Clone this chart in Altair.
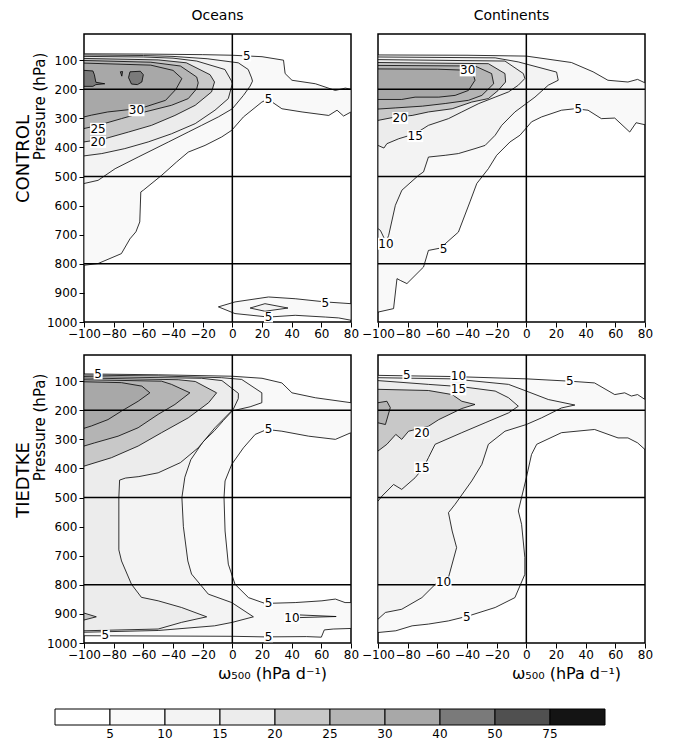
import altair as alt
import pandas as pd

FONT = "DejaVu Sans"
LEVELS = [5, 10, 15, 20, 25, 30, 40, 50, 75]
GRAYS = ["#ffffff", "#f9f9f9", "#f3f3f3", "#ececec", "#c8c8c8",
         "#b4b4b4", "#a8a8a8", "#7a7a7a", "#505050", "#141414"]
OMEGA_TICKS = [-100, -80, -60, -40, -20, 0, 20, 40, 60, 80]
P_TICKS = [100, 200, 300, 400, 500, 600, 700, 800, 900, 1000]
REF_P = [200, 500, 800]
REF_W = [0]
COL_TITLES = ["Oceans", "Continents"]
ROW_TITLES = ["CONTROL", "TIEDTKE"]
XTITLE = "ω₅₀₀  (hPa  d⁻¹)"
YTITLE = "Pressure  (hPa)"

# ---------------- CONTROL / Oceans : contour regions (omega, pressure) ----------------
TL_5 = [(-100, 78), (-60, 79), (-20, 81), (0, 83), (20, 88), (34.5, 100), (35.6, 146), (40.2, 169),
        (56, 181), (69.4, 204), (76.2, 196), (80, 200),
        (80, 278), (75, 292), (70.6, 272), (65, 290), (47, 278), (33.4, 267), (24, 234), (19.9, 244),
        (7.5, 295), (-0.4, 341), (-7.2, 364), (-18.4, 393), (-29.7, 416), (-37.6, 450), (-47.7, 496),
        (-60, 547), (-61.7, 553), (-62.4, 656), (-65, 690), (-69, 714), (-74.8, 765), (-90.5, 799), (-100, 805)]
TL_5_SFC = [(-9.4, 948), (1.8, 931), (24.4, 914), (42.4, 920), (62.7, 931), (80, 937),
            (80, 994), (71.7, 986), (62.7, 983), (42.4, 977), (24.4, 983), (1.8, 971)]
TL_10 = [(-100, 82), (-60, 84), (-40, 87), (-17, 95), (4, 109), (10.7, 132), (13, 161), (13.6, 172),
         (12, 189), (7.5, 221), (0, 267), (-9.4, 295), (-20.7, 324), (-29.7, 347), (-43, 381),
         (-63.5, 433), (-79, 473), (-90.5, 513), (-100, 524)]
TL_10_SFC = [(12, 952), (22, 937), (37.5, 952), (22, 963)]
TL_15 = [(-100, 87), (-60, 89), (-40, 93), (-24, 103), (-5, 132), (-0.5, 172), (0, 181),
         (-2.7, 232), (-11.7, 272), (-25, 318), (-41, 353), (-56.7, 381), (-72.5, 404), (-88, 421), (-100, 429)]
TL_20 = [(-100, 94), (-50, 99), (-31, 109), (-15, 150), (-12, 175),
         (-14, 209), (-25, 255), (-38.7, 290), (-54.5, 324), (-70, 347), (-86, 370), (-100, 381)]
TL_25 = [(-100, 101), (-55, 107), (-35, 120), (-24, 158), (-23, 178),
         (-24, 198), (-29.7, 232), (-41, 255), (-59, 278), (-74.8, 301), (-90.5, 324), (-100, 335)]
TL_30 = [(-100, 110), (-55, 117), (-40, 135), (-34, 163),
         (-38, 200), (-45, 238), (-59, 261), (-66, 268), (-84, 278), (-95, 289), (-100, 295)]
TL_40_EDGE = [(-100, 135), (-94, 137), (-93, 150), (-92, 176), (-86, 181), (-92, 184), (-94, 190), (-100, 190)]
TL_40_CORE = [(-69, 140), (-62, 138), (-60, 150), (-61, 175), (-64, 184), (-68, 182), (-70, 160)]
TL_40_SPECK = [(-75.5, 140), (-74, 139), (-74.5, 155)]

# ---------------- CONTROL / Continents ----------------
TR_5 = [(-100, 82), (-40, 83), (0, 86), (30.4, 108), (45, 140), (55, 169), (68.5, 175), (75, 166), (80, 178),
        (80, 322), (74, 315), (69.7, 347), (59.6, 299), (50.6, 301), (41.6, 272), (32.7, 267), (23.7, 272),
        (10.3, 295), (3.5, 312), (0, 333), (-4.3, 358), (-11, 381), (-20, 427), (-25.6, 473), (-33.4, 524),
        (-38, 587), (-45.8, 691), (-58, 746), (-66, 754), (-69.3, 811), (-80.5, 868), (-85, 857),
        (-87.2, 851), (-89.5, 954), (-100, 966)]
TR_10 = [(-100, 89), (-21, 92), (-5.4, 106), (20.4, 141), (21.5, 169),
         (14.8, 186), (5.8, 227), (0, 249), (-7.7, 278), (-16.6, 324), (-21, 358), (-27.8, 393), (-34.6, 404),
         (-45.8, 421), (-54.7, 427), (-66, 433), (-69.3, 484), (-72.7, 496), (-83.9, 547), (-88.3, 599),
         (-92.8, 702), (-94.6, 725), (-98.4, 685), (-100, 679)]
TR_15 = [(-100, 98), (-14.4, 103), (-2, 146), (-1, 163),
         (-5.4, 186), (-12, 209), (-21, 227), (-32, 249), (-43.5, 278), (-52.5, 301), (-66, 324), (-75, 353),
         (-86, 370), (-94, 387), (-96, 402), (-100, 393)]
TR_20 = [(-100, 108), (-25.6, 112), (-14.4, 146), (-14, 175),
         (-19, 204), (-25.6, 232), (-36.8, 244), (-50, 267), (-66, 278), (-77, 290), (-88, 295), (-100, 307)]
TR_25 = [(-100, 118), (-34.6, 120), (-23.4, 146), (-22, 181),
         (-30, 221), (-39, 238), (-54.7, 249), (-70, 258), (-88, 264), (-100, 268)]
TR_30 = [(-100, 130), (-60, 131), (-43.5, 134), (-36, 145), (-34.6, 169),
         (-39, 204), (-48, 221), (-59, 227), (-75, 227), (-84, 235), (-100, 235)]

# ---------------- TIEDTKE / Oceans ----------------
BL_5 = [(-100, 75), (-50, 78), (0, 83), (20, 90), (33.4, 106), (40.2, 140), (56, 157), (80, 174),
        (80, 277), (69.5, 300), (51.4, 289), (33.4, 272), (23.3, 266), (15.4, 283), (7.5, 329), (-0.4, 386),
        (-4.9, 443), (-5.6, 500), (-4.9, 615), (-2.7, 729), (1.8, 798), (10.9, 844), (22, 864), (42.4, 861),
        (60.4, 855), (69.5, 849), (76, 861), (80, 861),
        (80, 950), (68, 952), (62, 955), (60, 980), (50, 978), (22, 979), (0, 977), (-100, 975)]
BL_10 = [(-100, 79), (-50, 82), (-7.2, 88), (6.3, 94), (19.9, 140), (19.9, 174),
         (12, 188), (0, 202), (-6, 235), (-12, 270), (-20, 310), (-28, 370), (-32, 430), (-34, 500),
         (-33, 600), (-30, 718), (-27.5, 763), (-16.2, 832), (-0.4, 861), (14.2, 910), (0, 929),
         (-12, 941), (-50, 957), (-100, 963)]
BL_10_SFC = [(43, 903), (70, 909), (43, 913)]
BL_15 = [(-100, 84), (-20.7, 90), (-7, 98), (4.1, 142), (4, 160),
         (0.7, 196), (-11.7, 260), (-23, 329), (-35, 380), (-50, 415), (-63, 428), (-72, 433), (-76, 440),
         (-76.5, 500), (-76.5, 680), (-74.7, 718), (-68, 798), (-61.3, 843), (-50, 855), (-34.2, 878),
         (-17.3, 910), (-34.2, 929), (-50, 952), (-100, 958)]
BL_20 = [(-100, 89), (-36.5, 95), (-25, 101), (-10.6, 140),
         (-16, 174), (-29.7, 226), (-47.7, 277), (-63.5, 323), (-81.5, 363), (-100, 392)]
BL_20_SFC = [(-100, 897), (-91.7, 910), (-100, 921)]
BL_25 = [(-100, 95), (-47.7, 100), (-41, 111), (-28.6, 140),
         (-38.7, 180), (-50, 214), (-63.5, 260), (-77, 289), (-92.8, 312), (-100, 323)]
BL_30 = [(-100, 102), (-74.8, 105), (-61, 117), (-55.6, 140),
         (-63.5, 169), (-74.8, 203), (-83.8, 232), (-95, 254), (-100, 262)]

# ---------------- TIEDTKE / Continents ----------------
BR_5 = [(-100, 80), (-50, 84), (0, 92), (29.3, 100), (46, 106), (59.6, 146), (66.3, 140), (70.8, 151),
        (75, 146), (80, 163),
        (80, 335), (75, 312), (68.5, 295), (61.8, 295), (46, 266), (23.7, 277), (7, 317), (3.5, 352),
        (0, 432), (-5.4, 546), (-3.2, 592), (-1, 706), (-1, 764), (-7.7, 844), (-21, 878), (-39, 907),
        (-52.5, 924), (-66, 935), (-77, 941), (-88, 958), (-100, 964)]
BR_10 = [(-100, 88), (-50, 92), (-12, 111), (0, 134), (14.8, 163), (32.7, 182),
         (23.7, 192), (10.3, 226), (0, 249), (-14.4, 272), (-25.6, 317), (-30, 386), (-36.8, 443),
         (-48, 523), (-52.5, 552), (-50, 615), (-47, 672), (-52.5, 775), (-59, 786), (-70.4, 844),
         (-84, 884), (-95, 895), (-100, 918)]
BR_15 = [(-100, 98), (-66, 111), (-43.5, 119), (-21, 134), (-12, 157), (-5.4, 186),
         (-12, 209), (-27.8, 243), (-43.5, 277), (-61.5, 317), (-66, 363), (-69.3, 397), (-75, 432),
         (-84, 472), (-89.5, 455), (-97.3, 495), (-100, 512)]
BR_20 = [(-100, 128), (-66, 132), (-50, 146), (-43.5, 169), (-34.6, 180),
         (-43.5, 194), (-59, 232), (-66, 255), (-79.4, 272), (-84, 300), (-88, 283), (-94, 317), (-100, 340)]
BR_25 = [(-100, 174), (-94, 169), (-91.7, 191), (-95, 249), (-100, 243)]

# ---------------- contour labels (text, omega, pressure) ----------------
TL_LABELS = [("5", 9.7, 86), ("5", 24.4, 234), ("30", -64.6, 272), ("25", -90.5, 336),
             ("20", -90.5, 381), ("5", 62.7, 935), ("5", 24.4, 983)]
TR_LABELS = [("30", -39.5, 135), ("20", -85, 299), ("15", -74.9, 361), ("10", -94.6, 731),
             ("5", -55.8, 750), ("5", 35, 267)]
BL_LABELS = [("5", -90.5, 75), ("5", 24.4, 264), ("5", 24.4, 864), ("10", 40.2, 914),
             ("5", -85.6, 972), ("5", 24.4, 979)]
BR_LABELS = [("5", -80.5, 80), ("10", -45.8, 81), ("15", -45.8, 128), ("5", 29.3, 100),
             ("20", -70.4, 277), ("15", -70.4, 397), ("10", -55.8, 792), ("5", -40.2, 910)]

TL_REGIONS = [(5, [TL_5, TL_5_SFC]), (10, [TL_10, TL_10_SFC]), (15, [TL_15]), (20, [TL_20]),
              (25, [TL_25]), (30, [TL_30]), (40, [TL_40_EDGE, TL_40_CORE, TL_40_SPECK])]
TR_REGIONS = [(5, [TR_5]), (10, [TR_10]), (15, [TR_15]), (20, [TR_20]), (25, [TR_25]), (30, [TR_30])]
BL_REGIONS = [(5, [BL_5]), (10, [BL_10, BL_10_SFC]), (15, [BL_15]), (20, [BL_20, BL_20_SFC]),
              (25, [BL_25]), (30, [BL_30])]
BR_REGIONS = [(5, [BR_5]), (10, [BR_10]), (15, [BR_15]), (20, [BR_20]), (25, [BR_25])]

fill_scale = alt.Scale(type="threshold", domain=LEVELS, range=GRAYS)
xscale = alt.Scale(domain=[-100, 80], nice=False, zero=False)
yscale = alt.Scale(domain=[10, 1000], reverse=True, nice=False, zero=False)

W, H = 267, 288
BOX1 = "M-1,-1.2L1,-1.2L1,1.2L-1,1.2Z"    # white box behind a one-digit label
BOX2 = "M-1,-0.75L1,-0.75L1,0.75L-1,0.75Z"  # white box behind a two-digit label


def colorbar():
    cb_df = pd.DataFrame({"lo": [0] + LEVELS, "i": list(range(10)), "i2": list(range(1, 11)),
                          "b": [0] * 10, "b2": [1] * 10})
    cb_lab = pd.DataFrame({"t": [str(v) for v in LEVELS], "i": list(range(1, 10)), "b": [-0.55] * 9})
    cbx = alt.Scale(domain=[0, 10], range=[-29, 521], nice=False, zero=False)
    cby = alt.Scale(domain=[0, 1], range=[370, 354], nice=False, zero=False)
    rect = alt.Chart(cb_df).mark_rect(stroke="black", strokeWidth=1).encode(
        x=alt.X("i:Q", scale=cbx, axis=None), x2="i2",
        y=alt.Y("b:Q", scale=cby, axis=None), y2="b2",
        fill=alt.Fill("lo:Q", scale=fill_scale, legend=None))
    text = alt.Chart(cb_lab).mark_text(font=FONT, fontSize=12, baseline="middle", color="black").encode(
        x=alt.X("i:Q", scale=cbx, axis=None), y=alt.Y("b:Q", scale=cby, axis=None), text="t:N")
    return alt.layer(rect, text)


def panel(regions, labels, col_title, row_label, left, bottom, with_bar=False):
    rows = []
    for lev, pieces in regions:
        for k, piece in enumerate(pieces):
            for i, (w, p) in enumerate(piece):
                rows.append({"level": lev, "piece": f"{lev}-{k}", "i": i, "w": w, "p": p})
    poly = pd.DataFrame(rows)

    xkw = dict(values=OMEGA_TICKS, labelFontSize=12, tickSize=5, domain=False, grid=False,
               labelPadding=1, labelFlush=False, labelOverlap=False)
    if bottom:
        xkw.update(title=XTITLE, titleFontSize=16, titleFontWeight="normal", titleX=188, titleY=30,
                   titleBaseline="middle", titleAlign="center")
    else:
        xkw.update(title=None)
    X = alt.X("w:Q", scale=xscale, axis=alt.Axis(**xkw))
    if left:
        Y = alt.Y("p:Q", scale=yscale,
                  axis=alt.Axis(values=P_TICKS, format="d", title=YTITLE, titleFontSize=15,
                                titleFontWeight="normal", titleX=-45, titleY=72, titleAngle=270,
                                titleBaseline="middle", titleAlign="center", labelFontSize=12,
                                tickSize=5, domain=False, grid=False, labelPadding=2, labelOverlap=False))
    else:
        Y = alt.Y("p:Q", scale=yscale, axis=None)

    layers = []
    for lev, _ in regions:
        layers.append(
            alt.Chart(poly).transform_filter(alt.datum.level == lev)
            .mark_line(interpolate="linear-closed", stroke="black", strokeWidth=0.8, clip=True)
            .encode(x=X, y=Y, fill=alt.Fill("level:Q", scale=fill_scale, legend=None),
                    detail="piece:N", order="i:Q")
        )
    hr = alt.Chart(pd.DataFrame({"p": REF_P})).mark_rule(color="black", strokeWidth=1.5).encode(y=Y)
    vr = alt.Chart(pd.DataFrame({"w": REF_W})).mark_rule(color="black", strokeWidth=1.5).encode(x=X)
    lab = pd.DataFrame(labels, columns=["t", "w", "p"])
    lab["n"] = lab["t"].str.len()
    box1 = alt.Chart(lab).transform_filter(alt.datum.n == 1).mark_point(
        shape=BOX1, size=81, filled=True, fill="white", opacity=1, strokeWidth=0).encode(x=X, y=Y)
    box2 = alt.Chart(lab).transform_filter(alt.datum.n == 2).mark_point(
        shape=BOX2, size=256, filled=True, fill="white", opacity=1, strokeWidth=0).encode(x=X, y=Y)
    txt = alt.Chart(lab).mark_text(font=FONT, fontSize=12, color="black").encode(x=X, y=Y, text="t:N")
    parts = layers + [hr, vr, box1, box2, txt]
    if row_label:
        parts.append(
            alt.Chart(pd.DataFrame({"t": [row_label]})).mark_text(
                font=FONT, fontSize=18, angle=270, align="center", baseline="middle", color="black")
            .encode(text="t:N", x=alt.value(-60), y=alt.value(125)))
    props = dict(width=W, height=H)
    if col_title:
        props["title"] = alt.TitleParams(col_title, fontSize=14, fontWeight="normal", offset=10,
                                         font=FONT, anchor="middle", color="black")
    core = alt.layer(*parts)
    if with_bar:
        return alt.layer(core, colorbar()).resolve_scale(x="independent", y="independent").properties(**props)
    return core.properties(**props)


TL = panel(TL_REGIONS, TL_LABELS, COL_TITLES[0], ROW_TITLES[0], True, False)
TR = panel(TR_REGIONS, TR_LABELS, COL_TITLES[1], None, False, False)
BL = panel(BL_REGIONS, BL_LABELS, None, ROW_TITLES[1], True, True, with_bar=True)
BR = panel(BR_REGIONS, BR_LABELS, None, None, False, True)

chart = alt.concat(TL, TR, BL, BR, columns=2, spacing={"row": 33, "column": 27},
                   bounds="flush").properties(
    padding={"left": 6, "top": 0, "right": 5, "bottom": 2}
).configure_view(stroke="black", strokeWidth=1.5).configure_axis(
    labelFont=FONT, titleFont=FONT, labelColor="black", tickColor="black", titleColor="black",
    labelOverlap=False
).configure_title(font=FONT)

chart.save("out.html", embed_options={"renderer": "svg", "actions": False})
